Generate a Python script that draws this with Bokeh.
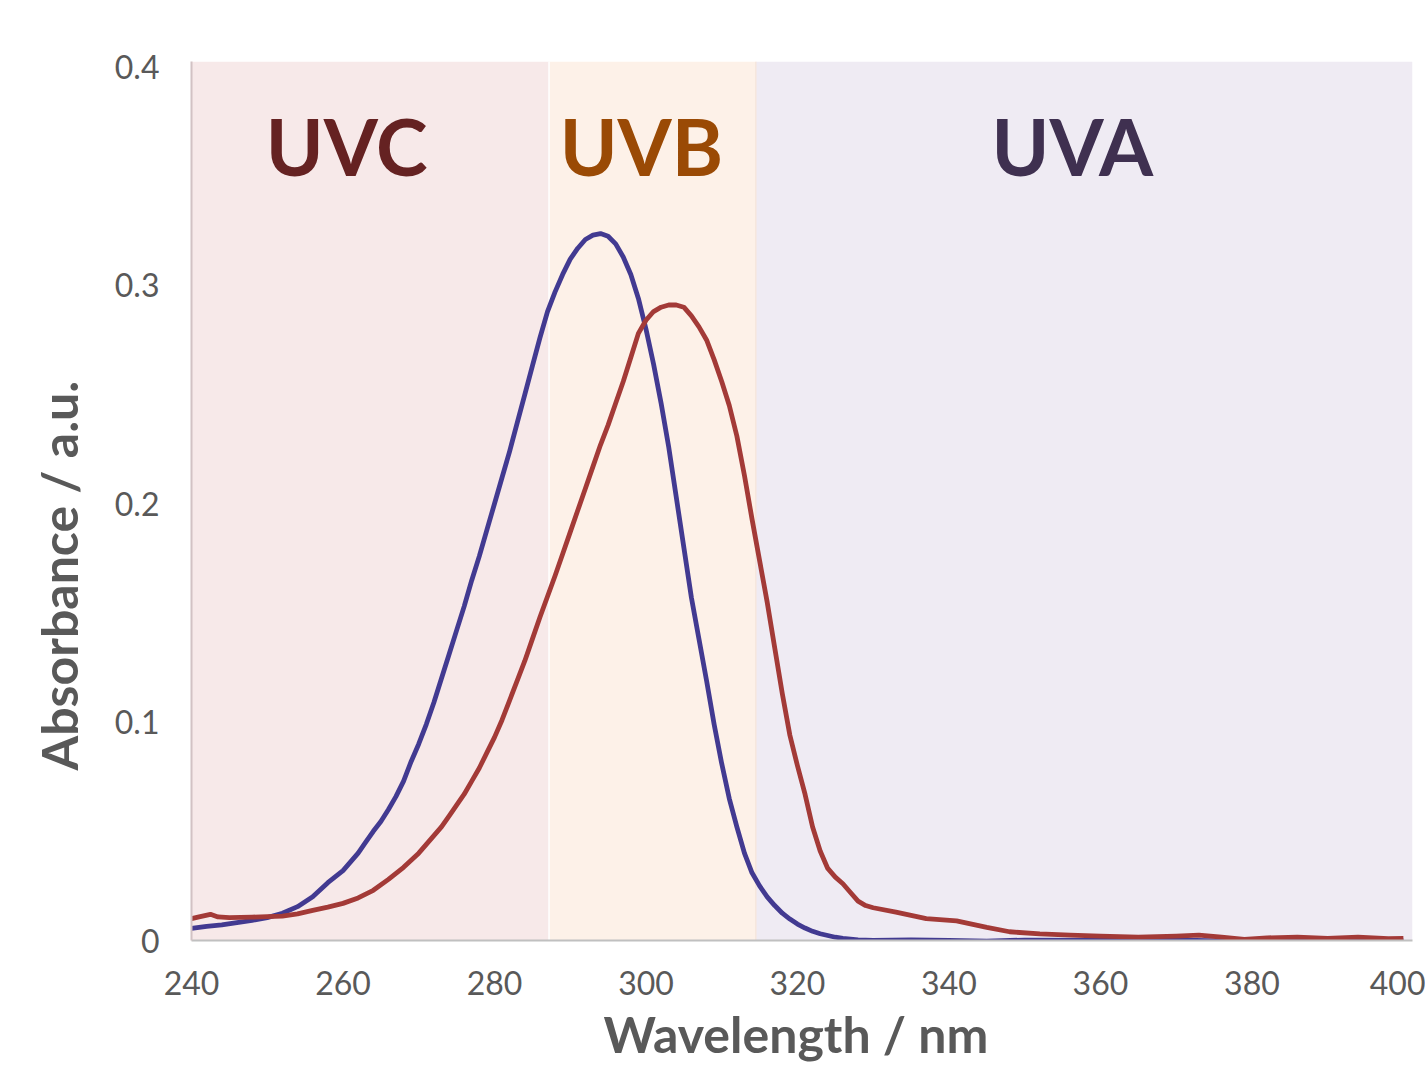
from bokeh.plotting import figure
from bokeh.models import Range1d, FixedTicker, ColumnDataSource, Title
from bokeh.core.properties import value
from bokeh.embed import file_html
from bokeh.resources import INLINE

# ---- data ----
blue_wl = [240, 242, 244, 246, 248, 250, 252, 254, 256, 258,
           260, 261, 262, 263, 264, 265, 266, 267, 268, 269, 270, 271, 272, 273, 274, 275,
           276, 277, 278, 279, 280, 281, 282, 283, 284, 285, 286, 287, 288, 289, 290, 291,
           292, 293, 294, 295, 296, 297, 298, 299, 300, 301, 302, 303, 304, 305, 306, 307,
           308, 309, 310, 311, 312, 313, 314, 315, 316, 317, 318, 319, 320, 321, 322, 323,
           324, 325, 326, 328, 330, 335, 340, 345, 350, 360, 370, 378, 385, 390, 400]
blue_abs = [0.0055, 0.0065, 0.0072, 0.0082, 0.0092, 0.0105, 0.0125, 0.0155, 0.020, 0.0265,
            0.032, 0.036, 0.040, 0.045, 0.050, 0.0545, 0.060, 0.066, 0.073, 0.082, 0.090,
            0.099, 0.109, 0.120, 0.131, 0.142, 0.153, 0.165, 0.176, 0.188, 0.200, 0.212,
            0.224, 0.237, 0.250, 0.263, 0.276, 0.288, 0.297, 0.305, 0.312, 0.317, 0.321,
            0.323, 0.3237, 0.3225, 0.319, 0.313, 0.305, 0.294, 0.280, 0.264, 0.246, 0.226,
            0.203, 0.180, 0.157, 0.138, 0.119, 0.099, 0.081, 0.065, 0.052, 0.040, 0.031,
            0.025, 0.020, 0.016, 0.0125, 0.0098, 0.0075, 0.0057, 0.0042, 0.0031, 0.0023,
            0.0015, 0.001, 0.0003, 0.0, 0.0003, 0.0, -0.0003, 0.0002, 0.0, 0.0003, -0.0004,
            0.0002, 0.0, -0.0002]

red_wl = [240, 241, 242.5, 243.5, 245, 248, 250, 252, 254, 256, 258, 260, 262, 264, 266, 268,
          270, 271, 272, 273, 274, 275, 276, 277, 278, 279, 280, 281, 282, 283, 284, 285, 286,
          287, 288, 289, 290, 291, 292, 293, 294, 295, 296, 297, 298, 299, 300, 301, 302, 303,
          304, 305, 306, 307, 308, 309, 310, 311, 312, 313, 314, 315, 316, 317, 318, 319, 320,
          321, 322, 323, 324, 325, 326, 327, 328, 329, 330, 333, 337, 341, 345, 348, 352, 356,
          360, 365, 370, 373, 376, 379, 382, 386, 390, 394, 398, 400]
red_abs = [0.0100, 0.0108, 0.0120, 0.0108, 0.0105, 0.0107, 0.0109, 0.0112, 0.0122, 0.0138,
           0.0153, 0.0170, 0.0195, 0.0230, 0.0280, 0.0335,
           0.040, 0.044, 0.048, 0.052, 0.057, 0.062, 0.067, 0.073, 0.079, 0.086, 0.093, 0.101,
           0.110, 0.119, 0.128, 0.138, 0.148, 0.1575, 0.167, 0.177, 0.187, 0.197, 0.207, 0.217,
           0.227, 0.236, 0.246, 0.256, 0.267, 0.278, 0.284, 0.288, 0.290, 0.291, 0.291, 0.290,
           0.286, 0.281, 0.275, 0.266, 0.256, 0.245, 0.231, 0.213, 0.193, 0.174, 0.155, 0.134,
           0.113, 0.094, 0.080, 0.067, 0.052, 0.041, 0.033, 0.029, 0.026, 0.022, 0.018, 0.016,
           0.015, 0.013, 0.010, 0.009, 0.006, 0.004, 0.003, 0.0025, 0.002, 0.0015, 0.0020,
           0.0025, 0.0015, 0.0005, 0.0012, 0.0015, 0.001, 0.0015, 0.0008, 0.001]

band_names = ["UVC", "UVB", "UVA"]
band_left = [240, 287.2, 314.5]
band_right = [287.2, 314.5, 401.2]
band_label_x = [260.5, 299.4, 356.3]
band_label_y = [0.364, 0.364, 0.364]
band_fill = ["#f7e9e9", "#fdf1e8", "#efebf3"]
band_text_color = ["#652222", "#9a4a05", "#3f3050"]

y_ticks = [0, 0.1, 0.2, 0.3, 0.4]
y_tick_labels = ["0", "0.1", "0.2", "0.3", "0.4"]
x_ticks = [240, 260, 280, 300, 320, 340, 360, 380, 400]
x_title = "Wavelength / nm"
y_title = "Absorbance / a.u."

FONT = "Lato"
Y_TOP = 0.4025

p = figure(width=1425, height=1070, output_backend="svg", toolbar_location=None,
           x_range=Range1d(240, 401.2), y_range=Range1d(0, Y_TOP),
           min_border_left=191, min_border_right=13, min_border_top=61, min_border_bottom=130)
p.outline_line_color = None
p.xgrid.visible = False
p.ygrid.visible = False
p.background_fill_color = "white"
p.border_fill_color = "white"

bands = ColumnDataSource(dict(left=band_left, right=band_right,
                              bottom=[0] * 3, top=[Y_TOP] * 3, color=band_fill))
p.quad(left="left", right="right", bottom="bottom", top="top", fill_color="color",
       line_color=None, source=bands)
p.segment(x0=[band_left[1]], y0=[0], x1=[band_left[1]], y1=[Y_TOP], line_color="white",
          line_width=1.5)
p.segment(x0=[band_left[2]], y0=[0], x1=[band_left[2]], y1=[Y_TOP], line_color="#f6e6dc",
          line_width=1.5)

p.line(blue_wl, blue_abs, line_color="#423a91", line_width=4.8, line_join="round")
p.line(red_wl, red_abs, line_color="#a33a37", line_width=4.8, line_join="round")

p.text(x=band_label_x, y=band_label_y, text=band_names, text_color=band_text_color,
       text_font=value(FONT), text_font_style="bold", text_font_size="78px",
       text_align="center", text_baseline="middle")

# axes
for ax in (p.xaxis, p.yaxis):
    ax.major_tick_line_color = None
    ax.minor_tick_line_color = None
    ax.major_label_text_font = FONT
    ax.major_label_text_font_size = "32px"
    ax.major_label_text_color = "#595959"
    ax.axis_line_width = 2

p.xaxis.ticker = FixedTicker(ticks=x_ticks)
p.yaxis.ticker = FixedTicker(ticks=y_ticks)
p.yaxis.major_label_overrides = {t: l for t, l in zip(y_ticks, y_tick_labels)}
p.xaxis.axis_line_color = "#c0c0c0"
p.yaxis.axis_line_color = "#d2c2c4"
p.xaxis.major_label_standoff = 24
p.yaxis.major_label_standoff = 26

# axis titles as side-panel titles (offset like the original)
p.add_layout(Title(text=x_title, text_font=FONT, text_font_style="bold",
                   text_font_size="50px", text_color="#595959", align="left",
                   offset=412, standoff=9), "below")
p.add_layout(Title(text=y_title, text_font=FONT, text_font_style="bold",
                   text_font_size="50px", text_color="#595959", align="left",
                   offset=170, standoff=46), "left")

open("out.html", "w").write(file_html(p, INLINE))
